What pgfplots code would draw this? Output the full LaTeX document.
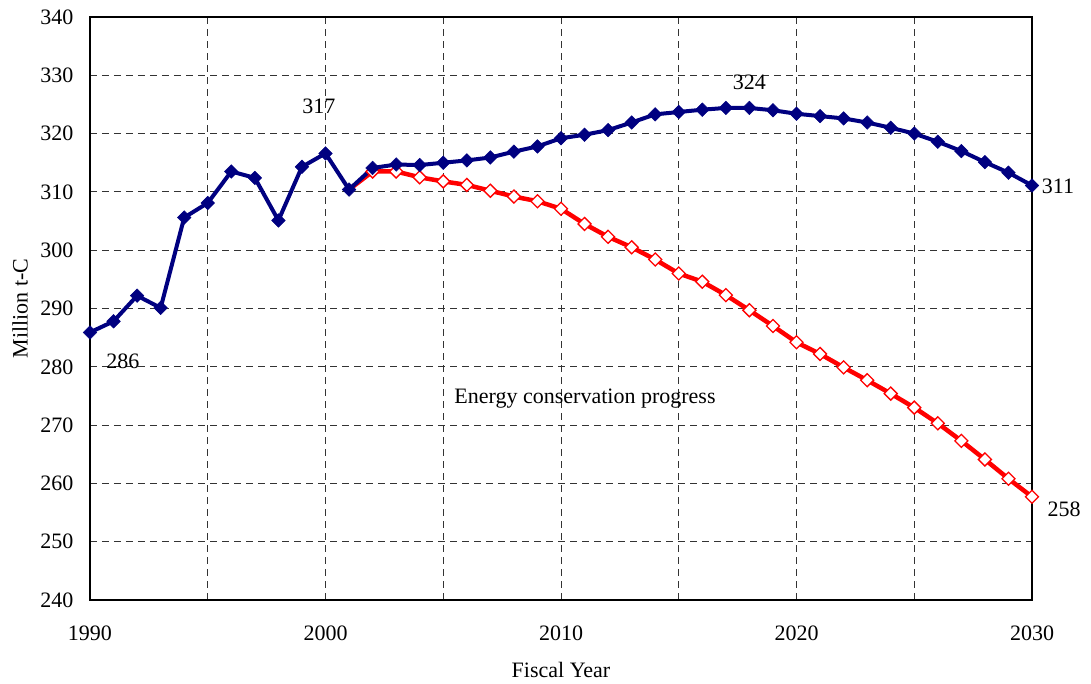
\documentclass[border=0pt]{standalone}
\usepackage{fontspec}
\setmainfont{Liberation Serif}
\usepackage{pgfplots}
\pgfplotsset{compat=1.18}
\definecolor{navyb}{RGB}{0,0,128}
\definecolor{redl}{RGB}{255,0,0}
\begin{document}
\fontsize{22}{26}\selectfont
\begin{tikzpicture}
\begin{axis}[
  scale only axis, width=942pt, height=583pt,
  at={(0pt,0pt)}, anchor=south west,
  xmin=1990, xmax=2030, ymin=240, ymax=340,
  xtick={1990,1995,...,2030},
  xticklabels={1990,,2000,,2010,,2020,,2030},
  ytick={240,250,...,340},
  grid=major,
  major grid style={black!80, dash pattern=on 7pt off 5pt, line width=0.9pt},
  axis line style={line width=1.3pt},
  tick style={draw=none},
  clip=false,
  font=\fontsize{22}{26}\selectfont,
  /pgf/number format/assume math mode=true,
  /pgf/number format/1000 sep={},
  xticklabel style={yshift=-18pt},
  yticklabel style={xshift=-9pt},
  xlabel={Fiscal Year}, ylabel={Million t-C},
  xlabel style={at={(axis description cs:0.5,-0.12)}, anchor=center},
  ylabel style={at={(axis description cs:-0.0743,0.5)}, anchor=center},
]
\addplot[redl, line width=4.5pt, mark=square*, mark phase=2,
  mark options={solid, fill=white, draw=redl, line width=1.3pt, rotate=45, mark size=4.6pt}]
  coordinates {
(2001,310.4) (2002,313.5) (2003,313.5) (2004,312.5) (2005,311.8) (2006,311.2)
(2007,310.2) (2008,309.2) (2009,308.4) (2010,307.1) (2011,304.5) (2012,302.3)
(2013,300.5) (2014,298.4) (2015,296.0) (2016,294.6) (2017,292.3) (2018,289.7)
(2019,287.0) (2020,284.2) (2021,282.2) (2022,279.9) (2023,277.7) (2024,275.4)
(2025,273.0) (2026,270.3) (2027,267.3) (2028,264.1) (2029,260.8) (2030,257.7)
};
\addplot[navyb, line width=4pt, mark=square*,
  mark options={solid, fill=navyb, draw=navyb, line width=0.5pt, rotate=45, mark size=4.8pt}]
  coordinates {
(1990,285.9) (1991,287.8) (1992,292.2) (1993,290.1) (1994,305.6) (1995,308.1)
(1996,313.5) (1997,312.4) (1998,305.1) (1999,314.3) (2000,316.6) (2001,310.4)
(2002,314.1) (2003,314.7) (2004,314.6) (2005,315.0) (2006,315.4) (2007,315.9)
(2008,316.9) (2009,317.8) (2010,319.2) (2011,319.8) (2012,320.6) (2013,321.9)
(2014,323.3) (2015,323.7) (2016,324.1) (2017,324.4) (2018,324.4) (2019,324.0)
(2020,323.4) (2021,323.0) (2022,322.6) (2023,321.9) (2024,321.0) (2025,320.0)
(2026,318.6) (2027,317.0) (2028,315.1) (2029,313.3) (2030,311.1)
};
\node at (axis cs:1999.72,324.7) {317};
\node at (axis cs:2018.0,328.8) {324};
\node at (axis cs:2031.1,311.0) {311};
\node at (axis cs:2031.36,255.5) {258};
\node at (axis cs:1991.4,281.0) {286};
\node at (axis cs:2011.02,274.56) {Energy conservation progress};
\end{axis}
\pgfresetboundingbox
\path[use as bounding box] (-90pt,-84pt) rectangle (1001pt,600pt);
\end{tikzpicture}
\end{document}
